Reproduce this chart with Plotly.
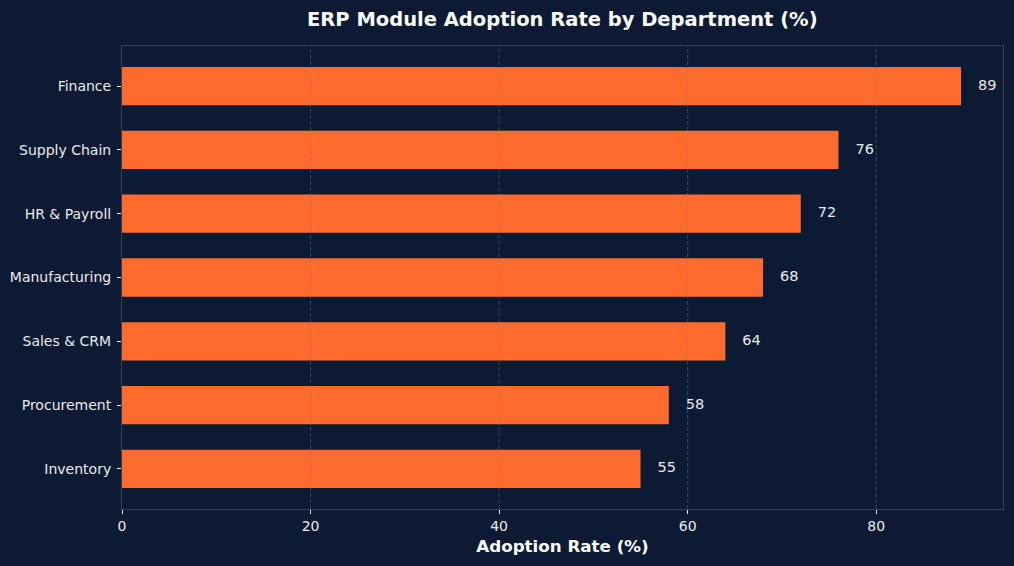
import plotly.graph_objects as go

departments = ["Inventory", "Procurement", "Sales & CRM", "Manufacturing", "HR & Payroll", "Supply Chain", "Finance"]
adoption = [55, 58, 64, 68, 72, 76, 89]
x_ticks = [0, 20, 40, 60, 80]

BG = "#0c1b33"
BAR = "#ff6b2c"
SPINE = "#33425a"
TXT = "#e8ebef"
FONT = "DejaVu Sans"

fig = go.Figure()
fig.add_trace(go.Bar(
    x=adoption, y=departments, orientation="h", width=0.6,
    marker=dict(color=BAR, line=dict(width=0)), hoverinfo="skip", showlegend=False,
))
fig.add_trace(go.Scatter(
    x=[v + 1.8 for v in adoption], y=departments, mode="text",
    text=[str(v) for v in adoption], textposition="middle right",
    textfont=dict(family=FONT, size=14.5, color=TXT), showlegend=False, hoverinfo="skip",
))

xmax = max(adoption) * 1.05
for t in x_ticks[1:]:
    fig.add_shape(type="line", x0=t, x1=t, y0=0, y1=1, xref="x", yref="paper",
                  line=dict(color="rgba(110,125,150,0.45)", width=1, dash="4px,2px"), layer="above")

fig.update_layout(
    width=1014, height=566,
    paper_bgcolor=BG, plot_bgcolor=BG,
    margin=dict(l=121, r=10, t=46, b=57),
    font=dict(family=FONT, color=TXT, size=14),
    title=dict(text="<b>ERP Module Adoption Rate by Department (%)</b>", x=0.5545, xanchor="center",
               y=0.966, yanchor="middle", font=dict(family=FONT, size=19.5, color="#ffffff")),
    bargap=0.4,
)
fig.update_xaxes(
    range=[0, xmax], tickvals=x_ticks, ticktext=[str(t) for t in x_ticks],
    showgrid=False, zeroline=False,
    showline=True, linecolor=SPINE, linewidth=1, mirror=True,
    ticks="outside", ticklen=4, tickcolor=TXT, tickwidth=1,
    tickfont=dict(family=FONT, size=14, color=TXT),
    title=dict(text="<b>Adoption Rate (%)</b>", font=dict(family=FONT, size=16.7, color="#ffffff"), standoff=7),
)
fig.update_yaxes(
    range=[-0.63, 6.63], showgrid=False, zeroline=False,
    showline=True, linecolor=SPINE, linewidth=1, mirror=True,
    ticks="outside", ticklen=4, tickcolor=TXT, tickwidth=1, ticklabelstandoff=3,
    tickfont=dict(family=FONT, size=14, color=TXT),
)

fig.write_html("out.html")
